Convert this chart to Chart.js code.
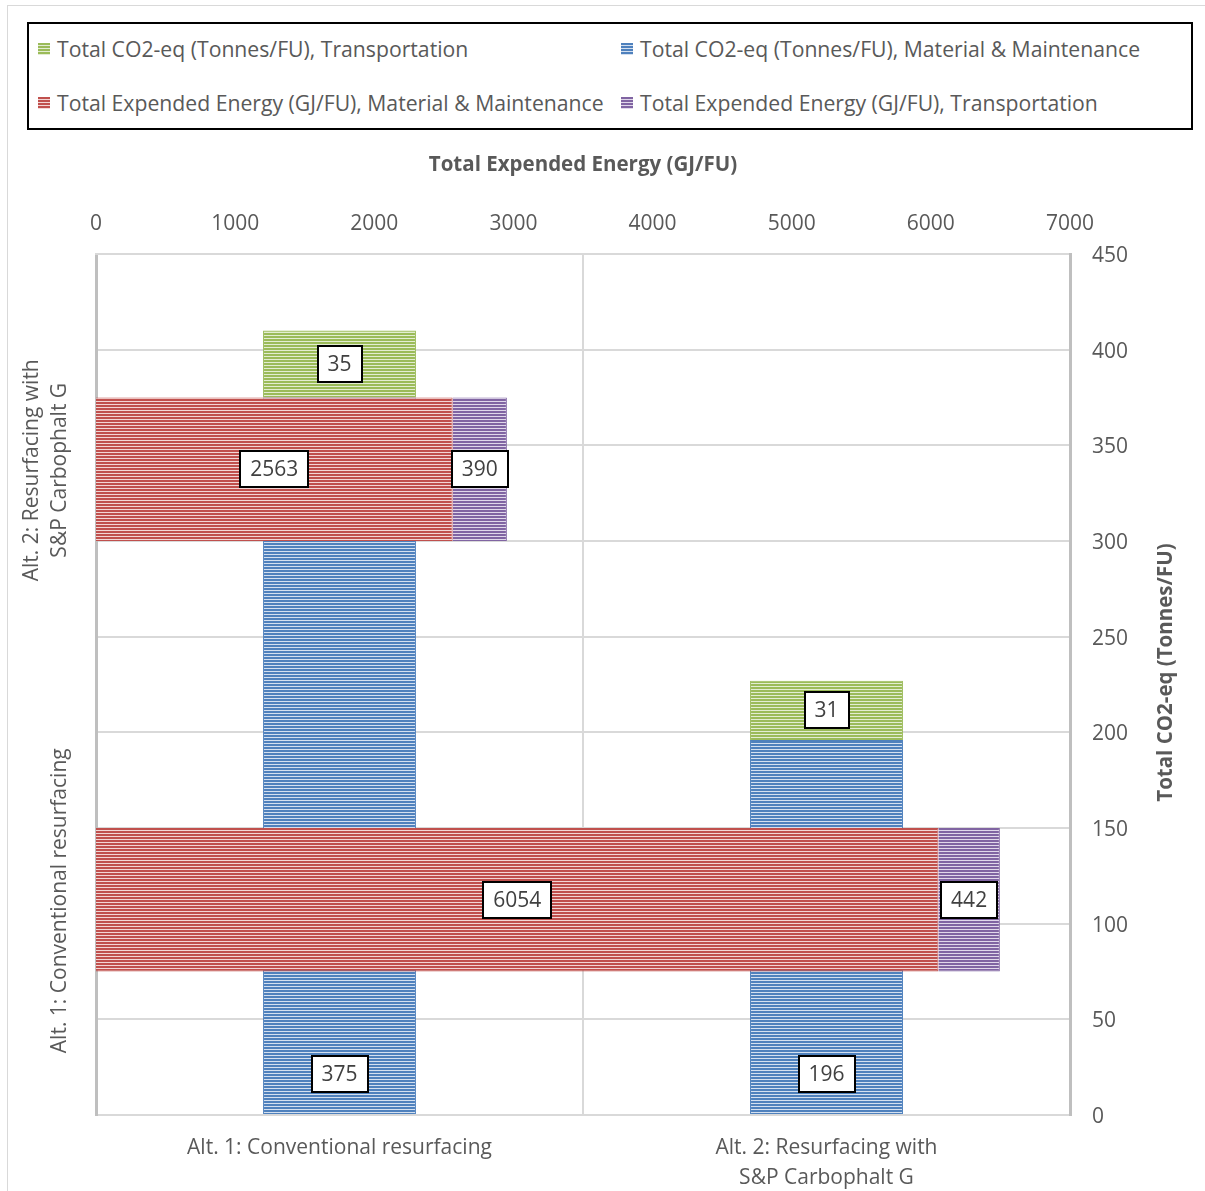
<!DOCTYPE html>
<html><head><meta charset="utf-8">
<script src="https://cdn.jsdelivr.net/npm/chart.js@4.4.1/dist/chart.umd.min.js"></script>
<style>
html,body{margin:0;padding:0;background:#fff;overflow:hidden}
#wrap{position:relative;width:1205px;height:1191px;font-family:"Open Sans",sans-serif;color:#595959;overflow:hidden}
#frame{position:absolute;left:7px;top:5px;width:1400px;height:1400px;border:1px solid #d9d9d9;box-sizing:border-box}
#c{position:absolute;left:0;top:0}
#legend{position:absolute;left:27px;top:22px;width:1166px;height:108px;box-sizing:border-box;border:2px solid #000;background:#fff}
.li{position:absolute;display:flex;align-items:center;font-size:21.2px;line-height:24px;height:24px;white-space:nowrap}
.sw{display:inline-block;width:12px;height:12px;margin-right:7px}
</style>
</head><body>
<div id="wrap">
<div id="frame"></div>
<canvas id="c" width="1205" height="1191"></canvas>
<div id="legend"></div>
</div>
<script>
// ---- data ----
const categories = ["Alt. 1: Conventional resurfacing", ["Alt. 2: Resurfacing with", "S&P Carbophalt G"]];
const co2Material = [375, 196];
const co2Transport = [35, 31];
const energyMaterial = [6054, 2563];
const energyTransport = [442, 390];
const seriesNames = {
  co2Transport: "Total CO2-eq (Tonnes/FU), Transportation",
  co2Material: "Total CO2-eq (Tonnes/FU), Material & Maintenance",
  energyMaterial: "Total Expended Energy (GJ/FU), Material & Maintenance",
  energyTransport: "Total Expended Energy (GJ/FU), Transportation"
};
const energyAxisTitle = "Total Expended Energy (GJ/FU)";
const co2AxisTitle = "Total CO2-eq (Tonnes/FU)";

// ---- styles ----
const COL = {
  green: ["#9bbb59", "#e3edd2"],
  blue: ["#4f81bd", "#d4e0f0"],
  red: ["#c0504d", "#f3d6d5"],
  purple: ["#8064a2", "#e0d7ea"]
};
const FONT = '"Open Sans", sans-serif';
const TXT = '#595959';

const canvas = document.getElementById('c');
const mainCtx = canvas.getContext('2d');
function stripe(pair) {
  const c = document.createElement('canvas'); c.width = 4; c.height = 3;
  const x = c.getContext('2d');
  x.fillStyle = pair[1]; x.fillRect(0, 0, 4, 3);
  x.fillStyle = pair[0]; x.fillRect(0, 0, 4, 2);
  return mainCtx.createPattern(c, 'repeat');
}

// ---- legend (HTML) ----
const legendItems = [
  [seriesNames.co2Transport, COL.green, 9, 25],
  [seriesNames.co2Material, COL.blue, 592, 25],
  [seriesNames.energyMaterial, COL.red, 9, 79],
  [seriesNames.energyTransport, COL.purple, 592, 79]
];
const lg = document.getElementById('legend');
legendItems.forEach(([name, pair, x, cy]) => {
  const d = document.createElement('div');
  d.className = 'li';
  d.style.left = x + 'px'; d.style.top = (cy - 12) + 'px';
  const s = document.createElement('span'); s.className = 'sw';
  s.style.background = `repeating-linear-gradient(to bottom, ${pair[0]} 0px, ${pair[0]} 2px, ${pair[1]} 2px, ${pair[1]} 3px)`;
  d.appendChild(s);
  d.appendChild(document.createTextNode(name));
  lg.appendChild(d);
});

// ---- plugins ----
const boxLabels = {
  id: 'boxLabels',
  afterDatasetsDraw(chart) {
    const ctx = chart.ctx;
    ctx.save();
    ctx.font = '21px ' + FONT;
    chart.data.datasets.forEach((ds, i) => {
      const meta = chart.getDatasetMeta(i);
      meta.data.forEach((el, j) => {
        const txt = String(ds.data[j]);
        const p = el.getProps(['x', 'y', 'base'], true);
        let cx, cy;
        if (ds.indexAxis === 'y') { cx = (p.x + p.base) / 2; cy = p.y; }
        else if (ds.labelAnchor === 'base') { cx = p.x; cy = p.base - 40; }
        else { cx = p.x; cy = (p.y + p.base) / 2; }
        const w = Math.round(ctx.measureText(txt).width + 20), h = 36;
        const bx = Math.round(cx - w / 2), by = Math.round(cy - h / 2);
        ctx.fillStyle = '#fff'; ctx.fillRect(bx, by, w, h);
        ctx.lineWidth = 2; ctx.strokeStyle = '#000'; ctx.strokeRect(bx, by, w, h);
        ctx.fillStyle = '#404040'; ctx.textAlign = 'center'; ctx.textBaseline = 'middle';
        ctx.fillText(txt, cx, cy + 1);
      });
    });
    ctx.restore();
  }
};
const sideText = {
  id: 'sideText',
  afterDraw(chart) {
    const ctx = chart.ctx; const yc = chart.scales.yCat;
    ctx.save();
    ctx.fillStyle = TXT; ctx.font = '21px ' + FONT; ctx.textAlign = 'center'; ctx.textBaseline = 'middle';
    chart.data.labels.forEach((lab, i) => {
      const lines = Array.isArray(lab) ? lab : [lab];
      const y = yc.getPixelForValue(i);
      lines.forEach((ln, k) => {
        const x = yc.right - 36 - (lines.length - 1 - k) * 28;
        ctx.save(); ctx.translate(x, y + 1); ctx.rotate(-Math.PI / 2); ctx.fillText(ln, 0, 0); ctx.restore();
      });
    });
    const yr = chart.scales.yCO2;
    ctx.font = 'bold 20.5px ' + FONT;
    ctx.translate(yr.left + 96, (yr.top + yr.bottom) / 2 - 12);
    ctx.rotate(-Math.PI / 2);
    ctx.fillText(co2AxisTitle, 0, 0);
    ctx.restore();
  }
};

const tickFont = { family: FONT, size: 21 };
const plain = v => String(v);

new Chart(canvas, {
  type: 'bar',
  data: {
    labels: categories,
    datasets: [
      { label: seriesNames.energyMaterial, data: energyMaterial, indexAxis: 'y', xAxisID: 'xEnergy', yAxisID: 'yCat',
        backgroundColor: stripe(COL.red), borderColor: COL.red[0], borderWidth: 1, grouped: false,
        categoryPercentage: 1, barPercentage: 0.333 },
      { label: seriesNames.energyTransport, data: energyTransport, indexAxis: 'y', xAxisID: 'xEnergy', yAxisID: 'yCat',
        backgroundColor: stripe(COL.purple), borderColor: COL.purple[0], borderWidth: 1, grouped: false,
        categoryPercentage: 1, barPercentage: 0.333 },
      { label: seriesNames.co2Material, data: co2Material, indexAxis: 'x', xAxisID: 'xCat', yAxisID: 'yCO2', labelAnchor: 'base',
        backgroundColor: stripe(COL.blue), borderColor: COL.blue[0], borderWidth: 1, grouped: false,
        categoryPercentage: 1, barPercentage: 0.314 },
      { label: seriesNames.co2Transport, data: co2Transport, indexAxis: 'x', xAxisID: 'xCat', yAxisID: 'yCO2',
        backgroundColor: stripe(COL.green), borderColor: COL.green[0], borderWidth: 1, grouped: false,
        categoryPercentage: 1, barPercentage: 0.314 }
    ]
  },
  options: {
    responsive: false,
    animation: false,
    devicePixelRatio: 1,
    layout: { padding: 0 },
    plugins: { legend: { display: false }, tooltip: { enabled: false } },
    scales: {
      xCat: {
        type: 'category', axis: 'x', position: 'bottom', stacked: true, offset: true,
        grid: { offset: true, drawTicks: false, lineWidth: 2,
          color: c => (c.index === 1 ? '#d9d9d9' : 'rgba(0,0,0,0)') },
        border: { display: true, color: '#d9d9d9', width: 2 },
        ticks: { color: TXT, font: { family: FONT, size: 21, lineHeight: 1.43 }, padding: 18, maxRotation: 0, minRotation: 0, autoSkip: false },
        afterFit: s => { s.height = 76; }
      },
      yCat: {
        type: 'category', axis: 'y', position: 'left', stacked: true, reverse: true, offset: true,
        grid: { display: false, drawTicks: false, offset: true },
        border: { display: true, color: '#bfbfbf', width: 3 },
        ticks: { display: false },
        afterFit: s => { s.width = 96; }
      },
      xEnergy: {
        type: 'linear', axis: 'x', position: 'top', stacked: true, min: 0, max: 7000, offset: false,
        grid: { display: false, drawTicks: false, offset: false },
        border: { display: true, color: '#d9d9d9', width: 2 },
        ticks: { stepSize: 1000, color: TXT, font: tickFont, padding: 17, callback: plain },
        title: { display: true, text: energyAxisTitle, color: TXT, font: { family: FONT, size: 20.5, weight: 'bold' }, padding: { top: 153, bottom: 0 } },
        afterFit: s => { s.height = 254; }
      },
      yCO2: {
        type: 'linear', axis: 'y', position: 'right', stacked: true, min: 0, max: 450, offset: false,
        grid: { color: '#d9d9d9', lineWidth: 2, drawTicks: false },
        border: { display: true, color: '#bfbfbf', width: 3 },
        ticks: { stepSize: 50, color: TXT, font: tickFont, padding: 22, labelOffset: 2, callback: plain },
        afterFit: s => { s.width = 135; }
      }
    }
  },
  plugins: [boxLabels, sideText]
});
</script>
</body></html>
